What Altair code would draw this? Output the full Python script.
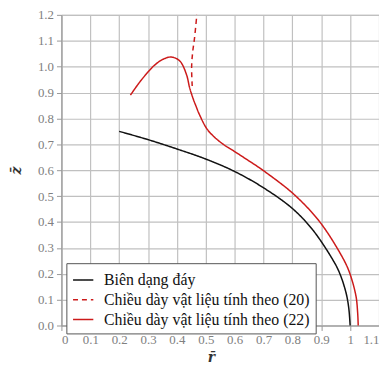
import altair as alt
import pandas as pd

# Series names
names = ["Biên dạng đáy",
         "Chiều dày vật liệu tính theo (20)",
         "Chiều dày vật liệu tính theo (22)"]

# Black: bottom profile
black_r = [0.2, 0.3, 0.4, 0.5, 0.6, 0.7, 0.8, 0.87, 0.94, 0.963, 0.985, 0.995, 1.0]
black_z = [0.750, 0.718, 0.682, 0.643, 0.595, 0.532, 0.452, 0.370, 0.254, 0.204, 0.13, 0.07, 0.0]

# Red dashed: thickness by (20) (upper branch)
dash_r = [0.453, 0.451, 0.455, 0.461, 0.469]
dash_z = [0.925, 1.0, 1.06, 1.11, 1.2]

# Red solid: thickness by (22)
red_r = [0.239, 0.278, 0.324, 0.355, 0.381, 0.41, 0.433, 0.444, 0.455, 0.467, 0.478,
         0.507, 0.552, 0.6, 0.678, 0.70, 0.804, 0.895, 0.975, 0.998, 1.02, 1.026, 1.028]
red_z = [0.89, 0.95, 1.007, 1.030, 1.037, 1.022, 0.970, 0.919, 0.88, 0.845, 0.815,
         0.755, 0.707, 0.672, 0.615, 0.598, 0.508, 0.40, 0.26, 0.204, 0.115, 0.05, 0.0]

x_ticks = [0, 0.1, 0.2, 0.3, 0.4, 0.5, 0.6, 0.7, 0.8, 0.9, 1.0, 1.1]
y_ticks = [0, 0.1, 0.2, 0.3, 0.4, 0.5, 0.6, 0.7, 0.8, 0.9, 1.0, 1.1, 1.2]

rows = []
for name, rs, zs in [(names[0], black_r, black_z), (names[1], dash_r, dash_z), (names[2], red_r, red_z)]:
    for i, (r, z) in enumerate(zip(rs, zs)):
        rows.append({"r": r, "z": z, "series": name, "idx": i})
df = pd.DataFrame(rows)

FONT = "Liberation Serif"

legend = alt.Legend(title=None, orient="none", legendX=5, legendY=251, labelLimit=400,
                    symbolType="stroke", symbolSize=420, symbolStrokeWidth=1.5,
                    labelFont=FONT, labelFontSize=16, labelColor="#111111", labelOffset=10,
                    strokeColor="#555555", fillColor="white", padding=6, rowPadding=1)

chart = alt.Chart(df).mark_line(strokeWidth=1.5, interpolate="catmull-rom").encode(
    x=alt.X("r:Q", scale=alt.Scale(domain=[0, 1.1], nice=False),
            axis=alt.Axis(values=x_ticks, title="r̄",
                          labelExpr="datum.value == 1 ? '1' : datum.value == 0 ? '0' : format(datum.value, '.1f')",
                          titleX=151, titlePadding=4)),
    y=alt.Y("z:Q", scale=alt.Scale(domain=[0, 1.2], nice=False),
            axis=alt.Axis(values=y_ticks, title="z̄", format=".1f", titlePadding=14)),
    color=alt.Color("series:N", scale=alt.Scale(domain=names, range=["#111111", "#cc1a1a", "#cc1a1a"]),
                    legend=legend),
    strokeDash=alt.StrokeDash("series:N", scale=alt.Scale(domain=names, range=[[1, 0], [5, 4], [1, 0]]),
                              legend=legend),
    order="idx:Q",
).properties(
    width=321, height=314,
    autosize=alt.AutoSizeParams(type="none"),
    padding={"left": 54, "top": 5, "right": 0, "bottom": 40},
).configure(
    font=FONT
).configure_view(
    stroke="#aaaaaa", strokeWidth=1
).configure_axis(
    grid=True, gridColor="#c0c0c0", gridWidth=1.2,
    domainColor="#999999", tickColor="#999999", tickSize=5,
    labelFont=FONT, labelFontSize=13, labelColor="#808080", labelPadding=3,
    titleFont="DejaVu Serif", titleFontSize=14, titleFontStyle="italic", titleFontWeight="bold", titleColor="#333333",
)

chart.save("out.html", embed_options={"renderer": "svg", "actions": False})
